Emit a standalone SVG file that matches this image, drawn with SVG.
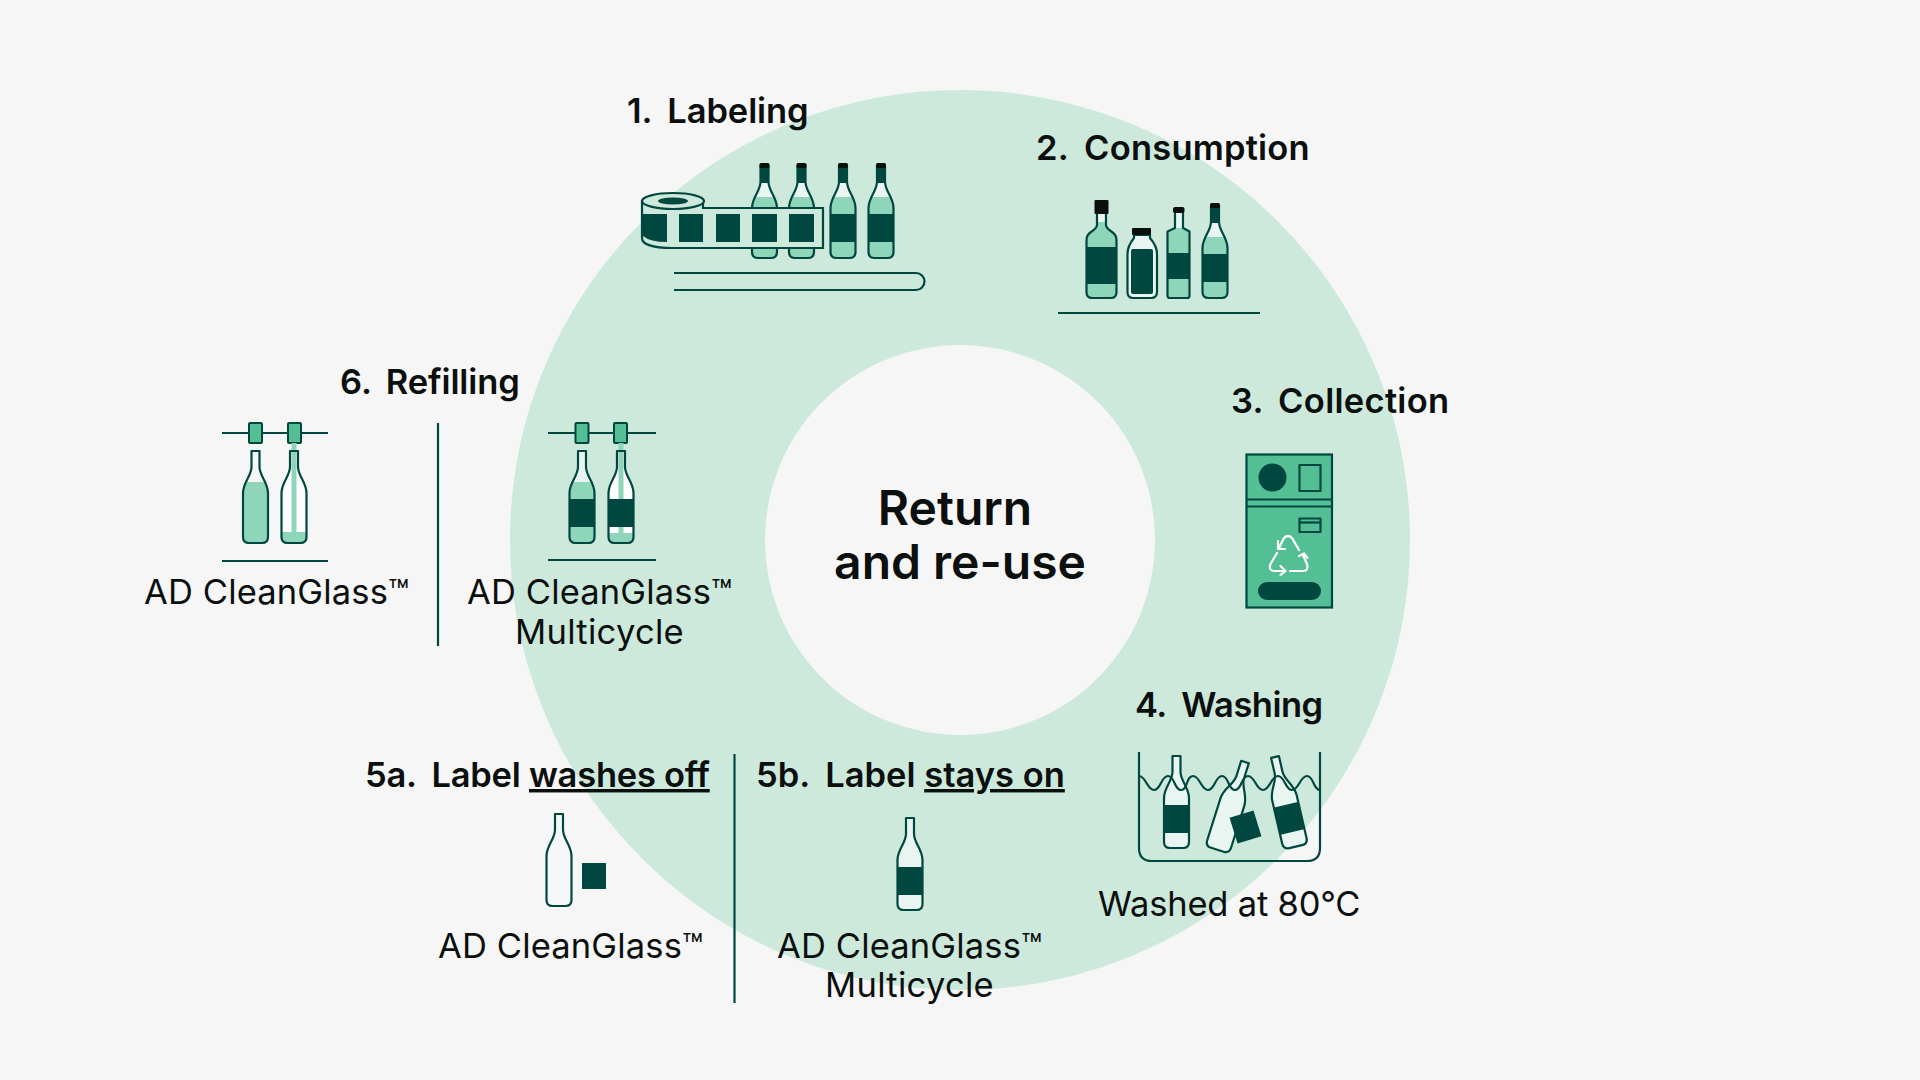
<svg xmlns="http://www.w3.org/2000/svg" xmlns:xlink="http://www.w3.org/1999/xlink" width="1920" height="1080" viewBox="0 0 1920 1080">
<style>
text{font-family:Inter,"Liberation Sans",sans-serif;fill:#0b0f0e}
.h{font-size:34.5px;font-weight:600}
.t{font-size:34.5px;font-weight:400}
.c{font-size:48px;font-weight:600;text-anchor:middle}
.o{fill:none;stroke:#00473f;stroke-width:2.2;stroke-linejoin:round}
.l{fill:none;stroke:#00473f;stroke-width:2.2}
.d{fill:#00473f}.m{fill:#8fd5ba}.p{fill:#e8f5f0}.k{fill:#0a0f0e}.g{fill:#54bf95}.w{fill:#f7f7f7}.r{fill:#cde9dc}
.wh{fill:none;stroke:#fff;stroke-width:2.2;stroke-linecap:round;stroke-linejoin:round}
</style>
<defs>
<path id="bo" d="M-4,0H4V16C4,25 12.5,31 12.5,42V86Q12.5,92 6.5,92H-6.5Q-12.5,92 -12.5,86V42C-12.5,31 -4,25 -4,16Z"/>
<clipPath id="bc"><use href="#bo"/></clipPath>
<g id="wine-full">
<g clip-path="url(#bc)"><rect x="-13" y="0" width="26" height="17" class="d"/><rect x="-13" y="17" width="26" height="14" class="p"/><rect x="-13" y="31" width="26" height="17" class="m"/><rect x="-13" y="48" width="26" height="28" class="d"/><rect x="-13" y="76" width="26" height="16" class="m"/></g>
<use href="#bo" class="o"/><rect x="-5" y="-3" width="10" height="5" rx="1.5" class="k"/>
</g>
<g id="wine-label">
<use href="#bo" class="p"/><g clip-path="url(#bc)"><rect x="-13" y="49" width="26" height="28" class="d"/></g><use href="#bo" class="o"/>
</g>
<g id="rail"><rect x="-6.5" y="-10" width="13" height="20" rx="1" class="g" stroke="#00473f" stroke-width="2"/></g>
</defs>
<rect width="1920" height="1080" fill="#f6f6f6"/>
<circle cx="960" cy="540" r="322.5" fill="none" stroke="#cde9dc" stroke-width="255"/>

<g id="center"><text class="c" x="955" y="525">Return</text><text class="c" x="960" y="579">and re-use</text></g>

<g id="step1">
<text class="h" x="627" y="123" letter-spacing="-0.1">1. <tspan dx="7">Labeling</tspan></text>
<use href="#wine-full" x="764.5" y="166"/><use href="#wine-full" x="801.5" y="166"/><use href="#wine-full" x="843" y="166"/><use href="#wine-full" x="881" y="166"/>
<path class="r" stroke="#00473f" stroke-width="2.2" d="M642,201V238C642,245 655,248 672,248H823V208H703V201Z"/>
<path class="d" d="M643,214H667V242Q650,242 643,236Z"/>
<rect x="679" y="214" width="24" height="28" class="d"/><rect x="716" y="214" width="24" height="28" class="d"/><rect x="752" y="214" width="25" height="28" class="d"/><rect x="789" y="214" width="25" height="28" class="d"/>
<ellipse cx="673" cy="201" rx="31" ry="8" class="r" stroke="#00473f" stroke-width="2.2"/><ellipse cx="673" cy="201" rx="15" ry="3.5" class="d"/>
<path class="l" d="M674,273H916A8.5,8.5 0 0 1 916,290H674"/>
</g>

<g id="step2">
<text class="h" x="1036" y="160" letter-spacing="0.2">2. <tspan dx="7">Consumption</tspan></text>
<g id="bottle-whisky">
<clipPath id="c1"><path d="M1097,213H1106V225Q1106,228 1112,232Q1116.500,235 1116.500,240V292Q1116.500,298 1111,298H1092Q1086.500,298 1086.500,292V240Q1086.500,235 1091,232Q1097,228 1097,225Z"/></clipPath>
<g clip-path="url(#c1)"><rect x="1086" y="213" width="31" height="9" class="p"/><rect x="1086" y="222" width="31" height="25" class="m"/><rect x="1086" y="247" width="31" height="37" class="d"/><rect x="1086" y="284" width="31" height="14" class="m"/></g>
<path class="o" d="M1097,213H1106V225Q1106,228 1112,232Q1116.500,235 1116.500,240V292Q1116.500,298 1111,298H1092Q1086.500,298 1086.500,292V240Q1086.500,235 1091,232Q1097,228 1097,225Z"/>
<rect x="1094.500" y="200" width="14" height="14" rx="1" class="k"/>
</g>
<g id="bottle-milk">
<path class="p" d="M1134,235H1150V238Q1157,246 1157,254V292Q1157,298 1151,298H1133Q1127.500,298 1127.500,292V254Q1127.500,246 1134,238Z"/>
<rect x="1131" y="249" width="22" height="45" rx="2" class="d"/>
<path class="o" d="M1134,235H1150V238Q1157,246 1157,254V292Q1157,298 1151,298H1133Q1127.500,298 1127.500,292V254Q1127.500,246 1134,238Z"/>
<rect x="1132" y="228" width="19" height="7" rx="1" class="k"/>
</g>
<g id="bottle-tall">
<clipPath id="c2"><path d="M1175,212H1183V228L1189.500,231.500V296Q1189.500,298 1187,298H1170Q1167.500,298 1167.500,296V231.500L1175,228Z"/></clipPath>
<g clip-path="url(#c2)"><rect x="1167" y="212" width="23" height="16" class="p"/><rect x="1167" y="228" width="23" height="25" class="m"/><rect x="1167" y="253" width="23" height="26" class="d"/><rect x="1167" y="279" width="23" height="19" class="m"/></g>
<path class="o" d="M1175,212H1183V228L1189.500,231.500V296Q1189.500,298 1187,298H1170Q1167.500,298 1167.500,296V231.500L1175,228Z"/>
<rect x="1173" y="207" width="11.500" height="6" rx="2" class="k"/>
</g>
<use href="#wine-full" x="1215" y="206"/>
<line class="l" x1="1058" y1="313" x2="1260" y2="313"/>
</g>

<g id="step3">
<text class="h" x="1231" y="413" letter-spacing="0.3">3. <tspan dx="6">Collection</tspan></text>
<rect x="1246.500" y="454.500" width="85.500" height="153" class="g" stroke="#00473f" stroke-width="2.2"/>
<circle cx="1272.500" cy="477.500" r="14" class="d"/>
<rect x="1299.500" y="465" width="21" height="26" class="o"/>
<path class="l" d="M1246,499.500H1332M1246,506.500H1332"/>
<rect x="1299.500" y="518.500" width="21" height="13.500" class="o"/><line class="l" x1="1299" y1="522.500" x2="1321" y2="522.500"/>
<rect x="1258" y="582" width="63" height="18" rx="9" class="d"/>
<path class="wh" d="M1299,550L1292,538Q1288,534 1284,538L1279,548M1278,541V549H1285"/>
<path class="wh" d="M1277,553L1270.500,564Q1268,571 1275,571H1285M1280.500,566L1285.500,571L1280.500,575"/>
<path class="wh" d="M1290,571H1303Q1309,571 1307,564L1303,555M1299,556L1304,553.500L1307.500,558"/>
</g>

<g id="step4">
<text class="h" x="1135" y="717" letter-spacing="-0.5">4. <tspan dx="7">Washing</tspan></text>
<use href="#wine-label" x="1176.500" y="756"/>
<g transform="translate(1245,762) rotate(17.500)"><use href="#bo" class="p" transform="scale(1,1)"/><use href="#bo" class="o"/></g>
<use href="#wine-label" transform="translate(1275,757) rotate(-13)"/>
<path class="l" d="M1139,776C1146,776 1147,790 1154,790C1161,790 1161,776 1168,776C1175,776 1174,790 1181,790C1188,790 1186,776 1193,776C1200,776 1201,790 1208,790C1215,790 1215,776 1222,776C1229,776 1228,790 1235,790C1242,790 1241,776 1248,776C1255,776 1256,790 1263,790C1270,790 1271,776 1278,776C1285,776 1285,790 1292,790C1299,790 1300,776 1307,776C1314,776 1313,790 1320,790"/>
<rect x="-12.500" y="-13.500" width="25" height="27" class="d" transform="translate(1245.500,827) rotate(-17)"/>
<path class="l" d="M1139,752V848Q1139,861 1152,861H1307Q1320,861 1320,848V752"/>
<text class="t" x="1098" y="916" letter-spacing="-0.2">Washed at 80°C</text>
</g>

<g id="step5a">
<text class="h" x="365" y="787" letter-spacing="-0.25">5a. <tspan dx="7">Label</tspan> <tspan text-decoration="underline">washes off</tspan></text>
<use href="#bo" x="559" y="814" class="w"/><use href="#bo" x="559" y="814" class="o"/>
<rect x="582" y="863" width="24" height="26" class="d"/>
<text class="t" x="438" y="958" letter-spacing="0.15">AD CleanGlass™</text>
</g>

<g id="step5b">
<text class="h" x="756" y="787">5b. <tspan dx="7">Label</tspan> <tspan text-decoration="underline">stays on</tspan></text>
<use href="#wine-label" x="910" y="818"/>
<text class="t" x="777" y="958" letter-spacing="0.15">AD CleanGlass™</text>
<text class="t" x="825" y="997" letter-spacing="0.3">Multicycle</text>
</g>

<g id="step6">
<text class="h" x="340" y="394" letter-spacing="-0.1">6. <tspan dx="6">Refilling</tspan></text>
<g id="refill-a">
<line class="l" x1="222" y1="433" x2="328" y2="433"/>
<use href="#rail" x="255.500" y="433"/><use href="#rail" x="294.500" y="433"/>
<g transform="translate(255.500,451)"><use href="#bo" class="w"/><g clip-path="url(#bc)"><rect x="-13" y="31" width="26" height="61" class="m"/></g><use href="#bo" class="o"/></g>
<g transform="translate(294,451)"><use href="#bo" fill="#fff"/><g clip-path="url(#bc)"><rect x="-13" y="81" width="26" height="11" class="m"/></g><rect x="-2.500" y="-8" width="5" height="90" class="m"/><use href="#bo" class="o"/></g>
<line class="l" x1="222" y1="561" x2="328" y2="561"/>
<text class="t" x="144" y="604" letter-spacing="0.15">AD CleanGlass™</text>
</g>
<g id="refill-b">
<line class="l" x1="548" y1="433" x2="656" y2="433"/>
<use href="#rail" x="582" y="433"/><use href="#rail" x="620.500" y="433"/>
<g transform="translate(582,451)"><use href="#bo" class="p"/><g clip-path="url(#bc)"><rect x="-13" y="31" width="26" height="17" class="m"/><rect x="-13" y="48" width="26" height="28" class="d"/><rect x="-13" y="76" width="26" height="16" class="m"/></g><use href="#bo" class="o"/></g>
<g transform="translate(621,451)"><use href="#bo" fill="#fff"/><rect x="-2.500" y="-8" width="5" height="90" class="m"/><g clip-path="url(#bc)"><rect x="-13" y="48" width="26" height="28" class="d"/><rect x="-13" y="82" width="26" height="10" class="m"/></g><use href="#bo" class="o"/></g>
<line class="l" x1="548" y1="560" x2="656" y2="560"/>
<text class="t" x="467" y="604" letter-spacing="0.15">AD CleanGlass™</text>
<text class="t" x="515" y="644" letter-spacing="0.3">Multicycle</text>
</g>
</g>

<g id="connectors">
<line class="l" x1="438" y1="423" x2="438" y2="646"/>
<line class="l" x1="734.500" y1="754" x2="734.500" y2="1003"/>
</g>
</svg>
